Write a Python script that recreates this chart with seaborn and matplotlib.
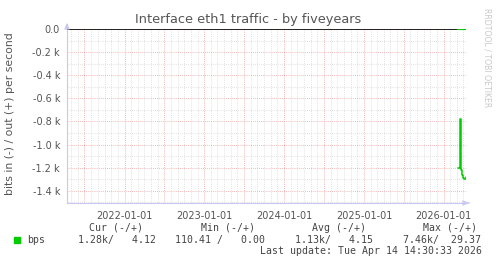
import matplotlib
matplotlib.use("Agg")
import matplotlib.pyplot as plt
import matplotlib.dates as mdates
import matplotlib.ticker as mticker
import seaborn as sns
import pandas as pd
import numpy as np

# ---- data ----
dates = ["2026-03-08", "2026-03-14", "2026-03-18", "2026-03-22", "2026-03-27",
         "2026-04-01", "2026-04-06", "2026-04-11"]
bits_in = [1200, 1200, 780, 1220, 1260, 1290, 1300, 1280]   # plotted negative
bits_out = [4.1, 4.2, 4.1, 4.2, 4.1, 4.2, 4.1, 4.12]
x_start = "2021-04-12"
x_end = "2026-04-13"
legend_headers = ["Cur (-/+)", "Min (-/+)", "Avg (-/+)", "Max (-/+)"]
legend_values = ["1.28k/   4.12", "110.41 /   0.00", "1.13k/   4.15", "7.46k/  29.37"]
series_name = "bps"
title = "Interface eth1 traffic - by fiveyears"
ylabel = "bits in (-) / out (+) per second"
last_update = "Last update: Tue Apr 14 14:30:33 2026"

df = pd.DataFrame({"date": pd.to_datetime(dates),
                   "in": -np.array(bits_in, dtype=float),
                   "out": np.array(bits_out, dtype=float)})

sns.set_style("white")
plt.rcParams["font.family"] = ["DejaVu Sans"]

W, H = 497, 264
fig = plt.figure(figsize=(W / 100, H / 100), dpi=100)
L, R, T, B = 67, 466, 29, 203
ax = fig.add_axes([L / W, 1 - B / H, (R - L) / W, (B - T) / H])

GREEN = "#00cc00"
ax.axhline(0, color="black", lw=1.2, zorder=3)
sns.lineplot(data=df, x="date", y="in", ax=ax, color=GREEN, lw=1.1, zorder=4,
             drawstyle="steps-post")
sns.lineplot(data=df, x="date", y="out", ax=ax, color=GREEN, lw=2.2, zorder=5)

ax.set_xlim(pd.Timestamp(x_start), pd.Timestamp(x_end))
ax.set_ylim(-1506, 0)

# y ticks
ax.yaxis.set_major_locator(mticker.MultipleLocator(200))
ax.yaxis.set_minor_locator(mticker.MultipleLocator(100))
ax.yaxis.set_major_formatter(mticker.FuncFormatter(
    lambda v, p: "0.0" if abs(v) < 1e-9 else f"{v/1000:.1f} k"))

# x ticks
ax.xaxis.set_major_locator(mdates.MonthLocator(bymonth=[1, 7]))
ax.xaxis.set_minor_locator(mdates.MonthLocator())
ax.xaxis.set_major_formatter(mticker.FuncFormatter(
    lambda v, p: mdates.num2date(v).strftime("%Y-%m-%d") if mdates.num2date(v).month == 1 else ""))

ax.grid(which="major", color="#f0a0a0", ls=(0, (1, 1.5)), lw=0.6)
ax.grid(which="minor", color="#d8d8d8", ls=(0, (1, 1.5)), lw=0.6)
ax.set_axisbelow(True)

ax.tick_params(axis="both", which="both", length=2, width=0.6, color="#bbbbbb",
               labelsize=7, labelcolor="#555555", pad=3, direction="out")
ax.tick_params(axis="both", which="minor", length=1.5)
ax.tick_params(axis="x", pad=4)

for s in ["top", "right"]:
    ax.spines[s].set_visible(False)
for s in ["left", "bottom"]:
    ax.spines[s].set_color("#c8c8f0")
    ax.spines[s].set_linewidth(0.8)

# axis arrows
ax.annotate("", xy=(L / W, 1 - 20 / H), xytext=(L / W, 1 - 29 / H), xycoords="figure fraction",
            arrowprops=dict(arrowstyle="-|>,head_width=0.15,head_length=0.35", color="#c8c8f0", lw=0.8))
ax.annotate("", xy=(472 / W, 1 - B / H), xytext=(R / W, 1 - B / H), xycoords="figure fraction",
            arrowprops=dict(arrowstyle="-|>,head_width=0.15,head_length=0.35", color="#c8c8f0", lw=0.8))

ax.set_xlabel("")
ax.set_ylabel("")
fig.text(248 / W, 1 - 19 / H, title, ha="center", va="center", fontsize=9.3, color="#555555")
fig.text(10 / W, 1 - 114 / H, ylabel, rotation=90, ha="center", va="center", fontsize=7.8, color="#555555")
fig.text(487 / W, 1 - 58 / H, "RRDTOOL / TOBI OETIKER", rotation=270, ha="center", va="center",
         fontsize=5.6, color="#c8c8c8")

mono = dict(family="DejaVu Sans Mono", fontsize=7.1, color="#444444", va="center")
hx = [89, 201, 312, 423]
vx = [78, 175, 295, 403]
for x, t in zip(hx, legend_headers):
    fig.text(x / W, 1 - 228 / H, t, ha="left", **mono)
for x, t in zip(vx, legend_values):
    fig.text(x / W, 1 - 240 / H, t, ha="left", **mono)
fig.text(27 / W, 1 - 240 / H, series_name, ha="left", **mono)
fig.patches.append(plt.Rectangle((14 / W, 1 - 243 / H), 6 / W, 6 / H, transform=fig.transFigure,
                                 color=GREEN, figure=fig))
fig.text(482 / W, 1 - 251 / H, last_update, ha="right", **mono)

fig.savefig("out.png", dpi=100)
